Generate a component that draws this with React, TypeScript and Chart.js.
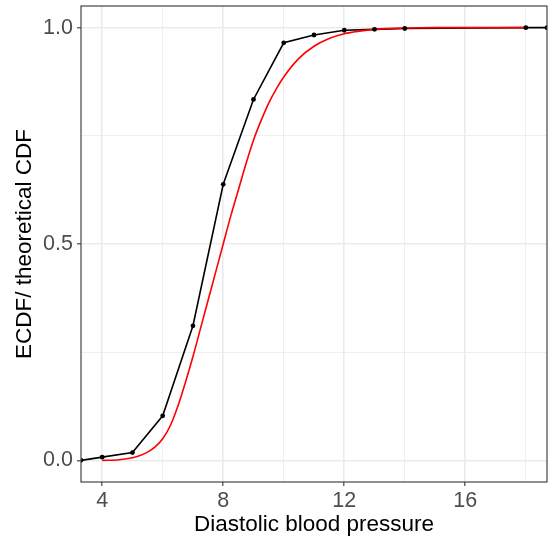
import React, { useEffect, useRef } from "react";
import { Chart, registerables } from "chart.js";

Chart.register(...registerables);

// ---- data ----
const ecdfX = [4, 5, 6, 7, 8, 9, 10, 11, 12, 13, 14, 18];
const ecdfY = [0.0074, 0.018, 0.103, 0.311, 0.638, 0.834, 0.965, 0.983, 0.994, 0.996, 0.998, 1.0];
const ecdfPadLow = 0;
const ecdfPadHigh = 1;

const cdfX = [4, 4.5, 5, 5.25, 5.5, 5.75, 6, 6.25, 6.5, 6.75, 7, 7.25, 7.5, 7.75, 8, 8.25, 8.5, 8.75, 9, 9.25, 9.5, 9.75, 10, 10.5, 11, 11.5, 12, 12.5, 13, 14, 15, 16, 17, 18];
const cdfY = [0, 0.001, 0.006, 0.011, 0.019, 0.031, 0.05, 0.08, 0.125, 0.18, 0.24, 0.305, 0.37, 0.435, 0.5, 0.565, 0.625, 0.685, 0.74, 0.785, 0.825, 0.858, 0.886, 0.929, 0.957, 0.975, 0.986, 0.992, 0.996, 0.999, 1, 1, 1, 1];

const xLimits = [3.3, 18.7];
const yLimits = [-0.05, 1.05];
const xMajorTicks = [4, 8, 12, 16];
const xMinorTicks = [6, 10, 14, 18];
const yMajorTicks = [0, 0.5, 1];
const yMinorTicks = [0.25, 0.75];
const yTickLabels = ["0.0", "0.5", "1.0"];

const xTitle = "Diastolic blood pressure";
const yTitle = "ECDF/ theoretical CDF";

const FONT = "'Liberation Sans', Arial, Helvetica, sans-serif";

const isMajor = (v: number, majors: number[]) => majors.some((m) => Math.abs(m - v) < 1e-9);

const panelBorder = {
  id: "panelBorder",
  afterDatasetsDraw(chart: any) {
    const { ctx, chartArea } = chart;
    ctx.save();
    ctx.strokeStyle = "#333333";
    ctx.lineWidth = 1.1;
    ctx.strokeRect(chartArea.left, chartArea.top, chartArea.right - chartArea.left, chartArea.bottom - chartArea.top);
    ctx.restore();
  },
};

export default function App() {
  const ref = useRef<HTMLCanvasElement | null>(null);

  useEffect(() => {
    document.body.style.margin = "0";
    if (!ref.current) return;

    const ecdfPoints = [
      { x: xLimits[0], y: ecdfPadLow },
      ...ecdfX.map((x, i) => ({ x, y: ecdfY[i] })),
      { x: xLimits[1], y: ecdfPadHigh },
    ];
    const cdfPoints = cdfX.map((x, i) => ({ x, y: cdfY[i] }));

    const chart = new Chart(ref.current, {
      type: "line",
      data: {
        datasets: [
          {
            label: "ECDF points",
            data: ecdfPoints,
            showLine: false,
            pointRadius: 2.4,
            pointBackgroundColor: "#000000",
            pointBorderColor: "#000000",
            pointBorderWidth: 0,
            clip: 0,
          } as any,
          {
            label: "theoretical CDF",
            data: cdfPoints,
            borderColor: "#FF0000",
            borderWidth: 1.6,
            pointRadius: 0,
            cubicInterpolationMode: "monotone",
            fill: false,
            clip: 0,
          } as any,
          {
            label: "ECDF",
            data: ecdfPoints,
            borderColor: "#000000",
            borderWidth: 1.6,
            pointRadius: 0,
            tension: 0,
            fill: false,
            clip: 0,
          } as any,
        ],
      },
      options: {
        responsive: false,
        animation: false,
        devicePixelRatio: 1,
        layout: { padding: { top: 6, right: 4, left: 0, bottom: 0 } },
        plugins: { legend: { display: false }, tooltip: { enabled: false } },
        scales: {
          x: {
            type: "linear",
            min: xLimits[0],
            max: xLimits[1],
            afterBuildTicks: (scale: any) => {
              scale.ticks = [...xMajorTicks, ...xMinorTicks].sort((a, b) => a - b).map((v) => ({ value: v }));
            },
            afterFit: (scale: any) => {
              scale.height = 58;
              scale.paddingLeft = 0;
              scale.paddingRight = 0;
              scale.paddingTop = 0;
              scale.paddingBottom = 0;
            },
            border: { display: false },
            grid: {
              color: "#EBEBEB",
              lineWidth: (c: any) => (isMajor(c.tick?.value, xMajorTicks) ? 1.6 : 0.8),
              tickColor: (c: any) => (isMajor(c.tick?.value, xMajorTicks) ? "#333333" : "rgba(0,0,0,0)"),
              tickWidth: 1.1,
              tickLength: 4,
              drawTicks: true,
            },
            ticks: {
              autoSkip: false,
              maxRotation: 0,
              padding: 4,
              color: "#4D4D4D",
              font: { family: FONT, size: 21.5, lineHeight: 1 },
              callback: (v: any) => (isMajor(Number(v), xMajorTicks) ? String(v) : ""),
            },
            title: {
              display: true,
              text: xTitle,
              color: "#000000",
              font: { family: FONT, size: 22.5, lineHeight: 1 },
              padding: { top: 0, bottom: 4 },
            },
          },
          y: {
            type: "linear",
            min: yLimits[0],
            max: yLimits[1],
            afterBuildTicks: (scale: any) => {
              scale.ticks = [...yMajorTicks, ...yMinorTicks].sort((a, b) => a - b).map((v) => ({ value: v }));
            },
            afterFit: (scale: any) => {
              scale.width = 81;
              scale.paddingLeft = 0;
              scale.paddingRight = 0;
              scale.paddingTop = 0;
              scale.paddingBottom = 0;
            },
            border: { display: false },
            grid: {
              color: "#EBEBEB",
              lineWidth: (c: any) => (isMajor(c.tick?.value, yMajorTicks) ? 1.6 : 0.8),
              tickColor: (c: any) => (isMajor(c.tick?.value, yMajorTicks) ? "#333333" : "rgba(0,0,0,0)"),
              tickWidth: 1.1,
              tickLength: 4,
              drawTicks: true,
            },
            ticks: {
              autoSkip: false,
              padding: 4,
              color: "#4D4D4D",
              font: { family: FONT, size: 21.5, lineHeight: 1 },
              callback: (v: any) => {
                const idx = yMajorTicks.findIndex((m) => Math.abs(m - Number(v)) < 1e-9);
                return idx >= 0 ? yTickLabels[idx] : "";
              },
            },
            title: {
              display: true,
              text: yTitle,
              color: "#000000",
              font: { family: FONT, size: 22.5, lineHeight: 1 },
              padding: { top: 13.5, bottom: 0 },
            },
          },
        },
      },
      plugins: [panelBorder],
    } as any);

    return () => chart.destroy();
  }, []);

  return (
    <div style={{ width: 551, height: 540, background: "#ffffff" }}>
      <canvas ref={ref} width={551} height={540} style={{ display: "block" }} />
    </div>
  );
}
